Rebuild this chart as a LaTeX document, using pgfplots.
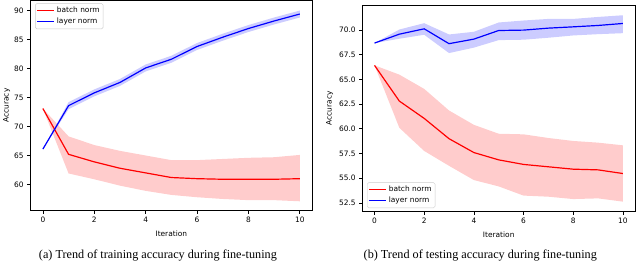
\documentclass[border=0pt]{standalone}
\usepackage{fontspec}
\setmainfont{Liberation Serif}
\newfontfamily\dejavu{DejaVu Sans}
\usepackage{pgfplots}
\pgfplotsset{compat=1.18}
\definecolor{mred}{RGB}{255,0,0}
\definecolor{mblue}{RGB}{0,0,255}
\pgfplotsset{
  myax/.style={
    scale only axis,
    xmin=-0.5, xmax=10.5,
    xtick={0,2,4,6,8,10},
    tick align=outside,
    tick style={black, line width=0.6bp},
    major tick length=3bp,
    axis line style={line width=0.6bp, black},
    tick label style={font=\dejavu\fontsize{7.5}{8.5}\selectfont},
    label style={font=\dejavu\fontsize{7.5}{8.5}\selectfont},
    /pgf/number format/assume math mode=true,
    xtick pos=bottom, ytick pos=left,
    xlabel={Iteration},
    ylabel={Accuracy},
    legend style={font=\dejavu\fontsize{7.5}{8.5}\selectfont, draw=black!20, rounded corners=1.5bp, inner sep=1.5bp, row sep=0bp},
    legend cell align=left,
    legend image post style={line width=1.2bp},
  },
  band/.style={draw=none, fill=#1, fill opacity=0.2, forget plot},
}
\begin{document}
\begin{tikzpicture}
\path (0,0) rectangle (640bp,265bp);
\begin{axis}[myax, at={(27bp,53.3bp)}, anchor=south west,
  width=284bp, height=211.5bp,
  ymin=55.47, ymax=91.77,
  ytick={60,65,70,75,80,85,90},
  ylabel style={yshift=-3bp},
  xlabel style={yshift=-1bp},
  legend style={at={(0.018,0.985)}, anchor=north west},
]
\addplot[band=mred] coordinates {(0,73.1)(1,68.3)(2,66.8)(3,65.8)(4,65.0)(5,64.2)(6,64.2)(7,64.4)(8,64.6)(9,64.7)(10,65.1)
 (10,57.1)(9,57.3)(8,57.3)(7,57.5)(6,57.8)(5,58.2)(4,58.9)(3,59.8)(2,60.9)(1,61.9)(0,73.1)};
\addplot[band=mblue] coordinates {(0,66.1)(1,74.2)(2,76.4)(3,78.2)(4,80.7)(5,82.2)(6,84.4)(7,86.0)(8,87.5)(9,88.8)(10,90.0)
 (10,88.8)(9,87.6)(8,86.3)(7,84.8)(6,83.2)(5,81.0)(4,79.5)(3,77.0)(2,75.2)(1,73.0)(0,66.1)};
\addplot[mred, line width=1.2bp] coordinates {(0,73.1)(1,65.2)(2,63.9)(3,62.8)(4,62.0)(5,61.2)(6,61.0)(7,60.9)(8,60.9)(9,60.9)(10,61.0)};
\addlegendentry{batch norm}
\addplot[mblue, line width=1.2bp] coordinates {(0,66.1)(1,73.6)(2,75.8)(3,77.6)(4,80.1)(5,81.6)(6,83.8)(7,85.4)(8,86.9)(9,88.2)(10,89.4)};
\addlegendentry{layer norm}
\end{axis}
\begin{axis}[myax, at={(360.7bp,52.3bp)}, anchor=south west,
  width=274.6bp, height=207.7bp,
  ymin=51.62, ymax=72.5,
  ytick={52.5,55,57.5,60,62.5,65,67.5,70},
  yticklabel style={/pgf/number format/.cd, fixed, fixed zerofill, precision=1},
  ylabel style={yshift=-1bp},
  xlabel style={yshift=-1bp},
  legend style={at={(0.018,0.018)}, anchor=south west},
]
\addplot[band=mred] coordinates {(0,66.41)(1,65.47)(2,64.03)(3,61.85)(4,60.4)(5,59.5)(6,59.44)(7,59.07)(8,58.77)(9,58.6)(10,58.33)
 (10,52.64)(9,52.97)(8,52.9)(7,53.14)(6,53.25)(5,54.18)(4,54.82)(3,56.26)(2,57.76)(1,60.1)(0,66.41)};
\addplot[band=mblue] coordinates {(0,68.66)(1,70.03)(2,70.67)(3,69.53)(4,69.8)(5,70.74)(6,70.94)(7,71.1)(8,71.1)(9,71.3)(10,71.47)
 (10,69.66)(9,69.56)(8,69.43)(7,69.2)(6,69.0)(5,68.96)(4,68.2)(3,67.65)(2,69.5)(1,69.1)(0,68.66)};
\addplot[mred, line width=1.2bp] coordinates {(0,66.41)(1,62.8)(2,61.05)(3,59.0)(4,57.6)(5,56.86)(6,56.4)(7,56.16)(8,55.92)(9,55.85)(10,55.48)};
\addlegendentry{batch norm}
\addplot[mblue, line width=1.2bp] coordinates {(0,68.66)(1,69.56)(2,70.1)(3,68.6)(4,69.06)(5,69.93)(6,69.97)(7,70.17)(8,70.3)(9,70.44)(10,70.64)};
\addlegendentry{layer norm}
\end{axis}
\node[font=\fontsize{12.3}{14}\selectfont, anchor=base] at (155.5bp,5bp) {(a) Trend of training accuracy during fine-tuning};
\node[font=\fontsize{12.3}{14}\selectfont, anchor=base] at (479.5bp,5bp) {(b) Trend of testing accuracy during fine-tuning};
\end{tikzpicture}
\end{document}
